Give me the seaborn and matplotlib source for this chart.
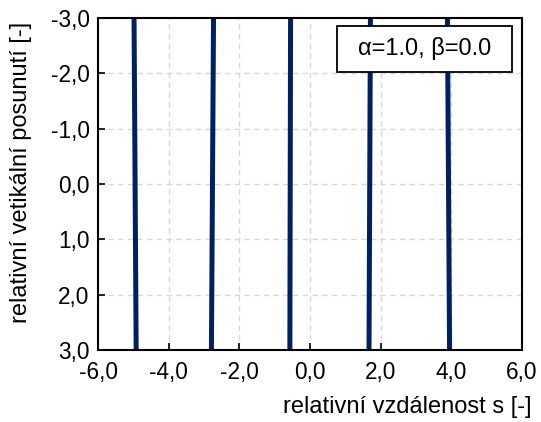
import matplotlib
matplotlib.use("Agg")
import matplotlib.pyplot as plt
import seaborn as sns
import pandas as pd
from matplotlib.patches import Rectangle
from matplotlib.ticker import FuncFormatter, MultipleLocator

sns.set_theme(style="white")
plt.rcParams['font.family'] = ['Liberation Sans', 'DejaVu Sans']

# data: each line given by its x at the top (y=-3) and at the bottom (y=3)
line_ids = [1, 2, 3, 4, 5]
x_top = [-4.98, -2.73, -0.55, 1.71, 3.89]
x_bottom = [-4.92, -2.79, -0.57, 1.67, 3.95]
y_top = -3.0
y_bottom = 3.0
label_text = "α=1.0, β=0.0"

rows = []
for lid, xt, xb in zip(line_ids, x_top, x_bottom):
    rows.append({"line": lid, "s": xt, "v": y_top})
    rows.append({"line": lid, "s": xb, "v": y_bottom})
df = pd.DataFrame(rows)

FS_TICK = 16.3
FS_LAB = 17

fig = plt.figure(figsize=(5.41, 4.22), dpi=100)
ax = fig.add_axes([98/541, 1 - 350/422, (522-98)/541, (350-18)/422])

sns.lineplot(data=df, x="s", y="v", units="line", estimator=None, sort=False,
             color="#002060", linewidth=3.6, ax=ax, legend=False)

ax.set_xlim(-6, 6)
ax.set_ylim(3, -3)
ax.xaxis.set_major_locator(MultipleLocator(2))
ax.yaxis.set_major_locator(MultipleLocator(1))
fmt = FuncFormatter(lambda v, p: f"{v:.1f}".replace(".", ",").replace("-0,0", "0,0"))
ax.xaxis.set_major_formatter(fmt)
ax.yaxis.set_major_formatter(fmt)

ax.grid(True, color="#d9d9d9", linestyle=(0, (4, 3)), linewidth=1.0)
ax.set_axisbelow(True)
for sp in ax.spines.values():
    sp.set_color("black")
    sp.set_linewidth(1.5)
    sp.set_visible(True)

ax.tick_params(axis="both", direction="in", length=5, width=1.2, color="black",
               labelsize=FS_TICK, labelcolor="black")
ax.tick_params(axis="x", bottom=True, top=False, pad=8)
ax.tick_params(axis="y", left=True, right=False, pad=6)

ax.set_xlabel("relativní vzdálenost s [-]", fontsize=FS_LAB, color="black")
ax.set_ylabel("relativní vetikální posunutí [-]", fontsize=FS_LAB, color="black")
ax.xaxis.set_label_coords(0.73, -0.14)
ax.yaxis.set_label_coords(-0.155, 0.535)

ax.add_patch(Rectangle((0.564, 0.837), 0.412, 0.139, transform=ax.transAxes,
                       facecolor="white", edgecolor="black", linewidth=1.3, zorder=5))
ax.text(0.770, 0.907, label_text, transform=ax.transAxes, ha="center", va="center",
        fontsize=FS_LAB, color="black", zorder=6)

fig.savefig("out.png", dpi=100)
